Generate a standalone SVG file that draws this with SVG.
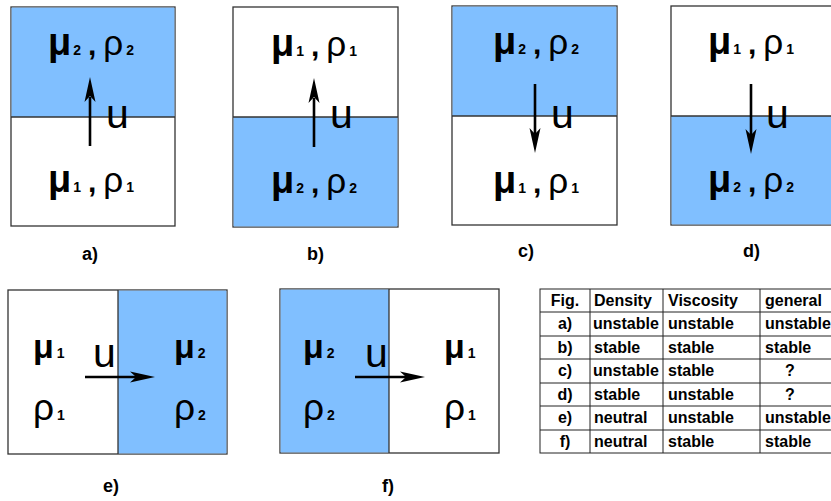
<svg xmlns="http://www.w3.org/2000/svg" width="831" height="501" viewBox="0 0 831 501">
<style>
.panel{fill:#ffffff;stroke:#333333;stroke-width:1.3}
.blue{fill:#80bfff;stroke:none}
.div{stroke:#333333;stroke-width:1.3}
.shaft{stroke:#000;stroke-width:2.6;fill:none}
.head{fill:#000;stroke:none}
text{font-family:"Liberation Sans",Arial,sans-serif;fill:#000}
.mu{font-weight:bold;font-size:38px}
.rho{font-size:35px}
.com{font-weight:bold;font-size:30px}
.sub{font-weight:bold;font-size:14px}
.mub{font-weight:bold;font-size:34px}
.rhob{font-size:37px}
.u{font-size:41px}
.lbl{font-weight:bold;font-size:18px}
.tb{font-weight:bold;font-size:16px}
.tl{stroke:#222;stroke-width:1;fill:none}
</style>

<g id="panel-a">
<rect class="panel" x="11" y="7" width="164" height="219"/>
<rect class="blue" x="11.6" y="7.6" width="162.8" height="109.4"/>
<line class="div" x1="11" y1="117" x2="175" y2="117"/>
<text x="91" y="55" text-anchor="middle"><tspan class="mu">μ</tspan><tspan class="sub" dx="2">2</tspan><tspan class="com" dx="7">,</tspan><tspan class="rho" dx="7">ρ</tspan><tspan class="sub" dx="3">2</tspan></text>
<text x="91" y="192" text-anchor="middle"><tspan class="mu">μ</tspan><tspan class="sub" dx="2">1</tspan><tspan class="com" dx="7">,</tspan><tspan class="rho" dx="7">ρ</tspan><tspan class="sub" dx="3">1</tspan></text>
<text class="u" x="106" y="128">u</text>
<text class="lbl" x="82" y="260">a)</text>
</g>

<g id="panel-b">
<rect class="panel" x="233" y="7" width="165" height="220"/>
<rect class="blue" x="233.6" y="117" width="163.8" height="109.4"/>
<line class="div" x1="233" y1="117" x2="398" y2="117"/>
<text x="314" y="56" text-anchor="middle"><tspan class="mu">μ</tspan><tspan class="sub" dx="2">1</tspan><tspan class="com" dx="7">,</tspan><tspan class="rho" dx="7">ρ</tspan><tspan class="sub" dx="3">1</tspan></text>
<text x="314" y="193" text-anchor="middle"><tspan class="mu">μ</tspan><tspan class="sub" dx="2">2</tspan><tspan class="com" dx="7">,</tspan><tspan class="rho" dx="7">ρ</tspan><tspan class="sub" dx="3">2</tspan></text>
<text class="u" x="330" y="128">u</text>
<text class="lbl" x="307" y="260">b)</text>
</g>

<g id="panel-c">
<rect class="panel" x="452" y="6" width="165" height="219"/>
<rect class="blue" x="452.6" y="6.6" width="163.8" height="109.4"/>
<line class="div" x1="452" y1="116" x2="617" y2="116"/>
<text x="536" y="54" text-anchor="middle"><tspan class="mu">μ</tspan><tspan class="sub" dx="2">2</tspan><tspan class="com" dx="7">,</tspan><tspan class="rho" dx="7">ρ</tspan><tspan class="sub" dx="3">2</tspan></text>
<text x="536" y="193" text-anchor="middle"><tspan class="mu">μ</tspan><tspan class="sub" dx="2">1</tspan><tspan class="com" dx="7">,</tspan><tspan class="rho" dx="7">ρ</tspan><tspan class="sub" dx="3">1</tspan></text>
<text class="u" x="551" y="128">u</text>
<text class="lbl" x="518" y="257">c)</text>
</g>

<g id="panel-d">
<rect class="panel" x="671" y="6" width="175" height="219"/>
<rect class="blue" x="671.6" y="116" width="175" height="108.4"/>
<line class="div" x1="671" y1="116" x2="846" y2="116"/>
<text x="751" y="54" text-anchor="middle"><tspan class="mu">μ</tspan><tspan class="sub" dx="2">1</tspan><tspan class="com" dx="7">,</tspan><tspan class="rho" dx="7">ρ</tspan><tspan class="sub" dx="3">1</tspan></text>
<text x="751" y="192" text-anchor="middle"><tspan class="mu">μ</tspan><tspan class="sub" dx="2">2</tspan><tspan class="com" dx="7">,</tspan><tspan class="rho" dx="7">ρ</tspan><tspan class="sub" dx="3">2</tspan></text>
<text class="u" x="766" y="128">u</text>
<text class="lbl" x="743" y="257">d)</text>
</g>

<g id="panel-e">
<rect class="panel" x="8" y="290" width="219" height="164"/>
<rect class="blue" x="118" y="290.6" width="108.4" height="162.8"/>
<line class="div" x1="118" y1="290" x2="118" y2="454"/>
<text x="33" y="358"><tspan class="mub">μ</tspan><tspan class="sub" dx="3">1</tspan></text>
<text x="33" y="420"><tspan class="rhob">ρ</tspan><tspan class="sub" dx="3">1</tspan></text>
<text x="174" y="358"><tspan class="mub">μ</tspan><tspan class="sub" dx="3">2</tspan></text>
<text x="174" y="420"><tspan class="rhob">ρ</tspan><tspan class="sub" dx="3">2</tspan></text>
<text class="u" x="93" y="367">u</text>
<text class="lbl" x="103" y="492">e)</text>
</g>

<g id="panel-f">
<rect class="panel" x="280" y="289" width="219" height="164"/>
<rect class="blue" x="280.6" y="289.6" width="108.4" height="162.8"/>
<line class="div" x1="389" y1="289" x2="389" y2="453"/>
<text x="303" y="358"><tspan class="mub">μ</tspan><tspan class="sub" dx="3">2</tspan></text>
<text x="303" y="420"><tspan class="rhob">ρ</tspan><tspan class="sub" dx="3">2</tspan></text>
<text x="444" y="358"><tspan class="mub">μ</tspan><tspan class="sub" dx="3">1</tspan></text>
<text x="444" y="420"><tspan class="rhob">ρ</tspan><tspan class="sub" dx="3">1</tspan></text>
<text class="u" x="365" y="367">u</text>
<text class="lbl" x="382" y="492">f)</text>
</g>

<g id="arrows">
<line class="shaft" x1="90" y1="146" x2="90" y2="97"/>
<polygon class="head" points="90,77 95.5,102 90,96 84.5,102"/>
<line class="shaft" x1="314" y1="147" x2="314" y2="98"/>
<polygon class="head" points="314,78 319.5,103 314,97 308.5,103"/>
<line class="shaft" x1="535" y1="84" x2="535" y2="134"/>
<polygon class="head" points="535,153 540.5,128 535,134 529.5,128"/>
<line class="shaft" x1="751" y1="84" x2="751" y2="135"/>
<polygon class="head" points="751,154 756.5,129 751,135 745.5,129"/>
<line class="shaft" x1="85" y1="377" x2="136" y2="377"/>
<polygon class="head" points="155,377 130,371.5 136,377 130,382.5"/>
<line class="shaft" x1="355" y1="377" x2="406" y2="377"/>
<polygon class="head" points="425,377 400,371.5 406,377 400,382.5"/>
</g>

<g id="table">
<rect class="tl" x="540" y="289" width="300" height="164"/>
<line class="tl" x1="590" y1="289" x2="590" y2="453"/>
<line class="tl" x1="663" y1="289" x2="663" y2="453"/>
<line class="tl" x1="760" y1="289" x2="760" y2="453"/>
<line class="tl" x1="540" y1="312" x2="840" y2="312"/>
<line class="tl" x1="540" y1="336" x2="840" y2="336"/>
<line class="tl" x1="540" y1="359" x2="840" y2="359"/>
<line class="tl" x1="540" y1="383" x2="840" y2="383"/>
<line class="tl" x1="540" y1="406" x2="840" y2="406"/>
<line class="tl" x1="540" y1="430" x2="840" y2="430"/>
<text class="tb" x="565" y="306" text-anchor="middle">Fig.</text>
<text class="tb" x="594" y="306">Density</text>
<text class="tb" x="668" y="306">Viscosity</text>
<text class="tb" x="765" y="306">general</text>

<text class="tb" x="565" y="329" text-anchor="middle">a)</text>
<text class="tb" x="593" y="329">unstable</text>
<text class="tb" x="668" y="329">unstable</text>
<text class="tb" x="765" y="329">unstable</text>

<text class="tb" x="565" y="353" text-anchor="middle">b)</text>
<text class="tb" x="594" y="353">stable</text>
<text class="tb" x="668" y="353">stable</text>
<text class="tb" x="765" y="353">stable</text>

<text class="tb" x="565" y="376" text-anchor="middle">c)</text>
<text class="tb" x="593" y="376">unstable</text>
<text class="tb" x="668" y="376">stable</text>
<text class="tb" x="790" y="376" text-anchor="middle">?</text>

<text class="tb" x="565" y="400" text-anchor="middle">d)</text>
<text class="tb" x="594" y="400">stable</text>
<text class="tb" x="668" y="400">unstable</text>
<text class="tb" x="790" y="400" text-anchor="middle">?</text>

<text class="tb" x="565" y="423" text-anchor="middle">e)</text>
<text class="tb" x="594" y="423">neutral</text>
<text class="tb" x="668" y="423">unstable</text>
<text class="tb" x="765" y="423">unstable</text>

<text class="tb" x="565" y="447" text-anchor="middle">f)</text>
<text class="tb" x="594" y="447">neutral</text>
<text class="tb" x="668" y="447">stable</text>
<text class="tb" x="765" y="447">stable</text>
</g>
</svg>
